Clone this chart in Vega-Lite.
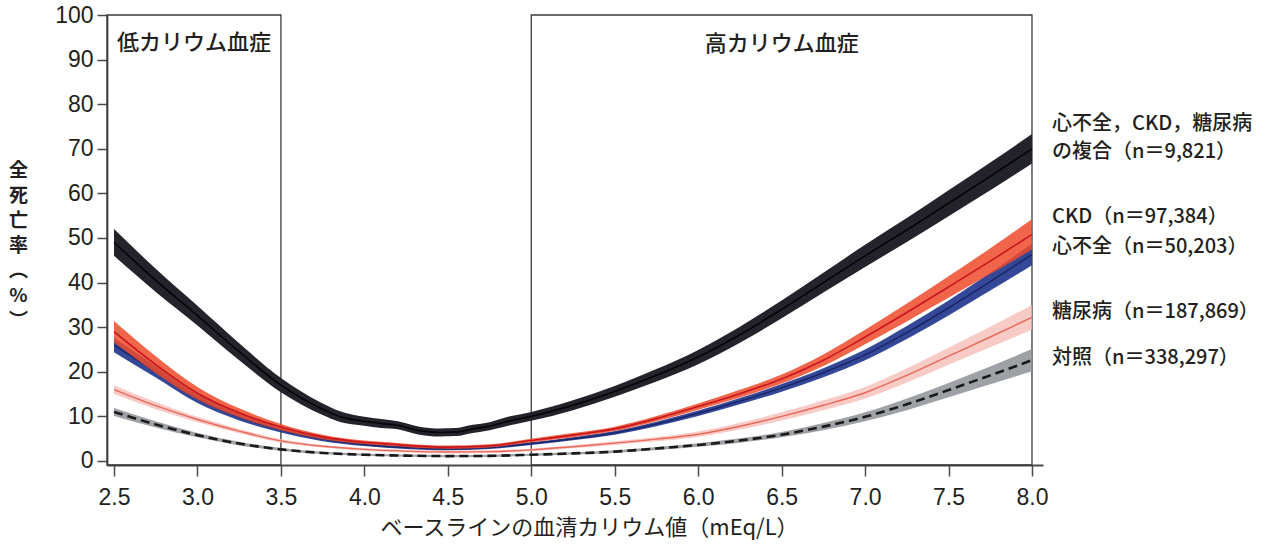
{
  "$schema": "https://vega.github.io/schema/vega-lite/v6.json",
  "width": 936,
  "height": 450,
  "autosize": {"type": "none"},
  "padding": {"left": 107, "top": 15, "right": 236, "bottom": 82},
  "background": "white",
  "config": {"view": {"stroke": null}, "font": "Liberation Sans"},
  "datasets": {
    "boxes": [{"a": 2.458, "b": 3.5}, {"a": 5.0, "b": 8.0}],
    "boxlabels": [{"k": 2.979, "v": 93.8, "txt": "低カリウム血症"}, {"k": 6.5, "v": 93.6, "txt": "高カリウム血症"}],
    "serieslabels": [
      {"k": 8.12, "v": 75.5, "txt": "心不全，CKD，糖尿病"},
      {"k": 8.12, "v": 69.2, "txt": "の複合（n＝9,821）"},
      {"k": 8.12, "v": 54.7, "txt": "CKD（n＝97,384）"},
      {"k": 8.12, "v": 48.0, "txt": "心不全（n＝50,203）"},
      {"k": 8.12, "v": 33.4, "txt": "糖尿病（n＝187,869）"},
      {"k": 8.12, "v": 23.1, "txt": "対照（n＝338,297）"}
    ],
    "curves": [
      {"g": "comp", "k": 2.5, "m": 49.0, "lo": 46.0, "hi": 52.0},
      {"g": "comp", "k": 2.75, "m": 40.5, "lo": 37.9, "hi": 43.1},
      {"g": "comp", "k": 3.0, "m": 32.6, "lo": 30.4, "hi": 34.8},
      {"g": "comp", "k": 3.25, "m": 24.5, "lo": 22.6, "hi": 26.4},
      {"g": "comp", "k": 3.5, "m": 17.0, "lo": 15.4, "hi": 18.6},
      {"g": "comp", "k": 3.75, "m": 11.6, "lo": 10.3, "hi": 12.9},
      {"g": "comp", "k": 3.85, "m": 10.0, "lo": 8.8, "hi": 11.2},
      {"g": "comp", "k": 4.0, "m": 8.9, "lo": 7.9, "hi": 9.9},
      {"g": "comp", "k": 4.1, "m": 8.4, "lo": 7.4, "hi": 9.4},
      {"g": "comp", "k": 4.2, "m": 8.0, "lo": 7.1, "hi": 8.9},
      {"g": "comp", "k": 4.33, "m": 6.8, "lo": 5.9, "hi": 7.7},
      {"g": "comp", "k": 4.45, "m": 6.4, "lo": 5.5, "hi": 7.3},
      {"g": "comp", "k": 4.55, "m": 6.5, "lo": 5.6, "hi": 7.4},
      {"g": "comp", "k": 4.65, "m": 7.2, "lo": 6.3, "hi": 8.1},
      {"g": "comp", "k": 4.75, "m": 7.8, "lo": 6.9, "hi": 8.7},
      {"g": "comp", "k": 4.85, "m": 8.8, "lo": 7.8, "hi": 9.8},
      {"g": "comp", "k": 5.0, "m": 10.0, "lo": 9.0, "hi": 11.0},
      {"g": "comp", "k": 5.25, "m": 12.5, "lo": 11.4, "hi": 13.6},
      {"g": "comp", "k": 5.5, "m": 15.6, "lo": 14.4, "hi": 16.8},
      {"g": "comp", "k": 5.75, "m": 19.2, "lo": 17.8, "hi": 20.6},
      {"g": "comp", "k": 6.0, "m": 23.3, "lo": 21.7, "hi": 24.9},
      {"g": "comp", "k": 6.25, "m": 28.3, "lo": 26.5, "hi": 30.1},
      {"g": "comp", "k": 6.5, "m": 34.0, "lo": 32.0, "hi": 36.0},
      {"g": "comp", "k": 6.75, "m": 40.0, "lo": 37.8, "hi": 42.2},
      {"g": "comp", "k": 7.0, "m": 46.0, "lo": 43.5, "hi": 48.5},
      {"g": "comp", "k": 7.25, "m": 51.8, "lo": 49.1, "hi": 54.5},
      {"g": "comp", "k": 7.5, "m": 57.8, "lo": 54.9, "hi": 60.7},
      {"g": "comp", "k": 7.75, "m": 63.8, "lo": 60.7, "hi": 66.9},
      {"g": "comp", "k": 8.0, "m": 70.0, "lo": 66.7, "hi": 73.3},

      {"g": "ckd", "k": 2.5, "m": 29.0, "lo": 26.6, "hi": 31.4},
      {"g": "ckd", "k": 2.75, "m": 21.6, "lo": 19.7, "hi": 23.5},
      {"g": "ckd", "k": 3.0, "m": 15.2, "lo": 13.8, "hi": 16.6},
      {"g": "ckd", "k": 3.25, "m": 10.8, "lo": 9.8, "hi": 11.8},
      {"g": "ckd", "k": 3.5, "m": 7.6, "lo": 6.9, "hi": 8.3},
      {"g": "ckd", "k": 3.75, "m": 5.4, "lo": 4.9, "hi": 5.9},
      {"g": "ckd", "k": 4.0, "m": 4.2, "lo": 3.8, "hi": 4.6},
      {"g": "ckd", "k": 4.15, "m": 3.8, "lo": 3.4, "hi": 4.2},
      {"g": "ckd", "k": 4.25, "m": 3.5, "lo": 3.15, "hi": 3.85},
      {"g": "ckd", "k": 4.5, "m": 3.1, "lo": 2.75, "hi": 3.45},
      {"g": "ckd", "k": 4.75, "m": 3.4, "lo": 3.05, "hi": 3.75},
      {"g": "ckd", "k": 5.0, "m": 4.6, "lo": 4.2, "hi": 5.0},
      {"g": "ckd", "k": 5.25, "m": 5.8, "lo": 5.35, "hi": 6.25},
      {"g": "ckd", "k": 5.5, "m": 7.2, "lo": 6.7, "hi": 7.7},
      {"g": "ckd", "k": 5.75, "m": 9.5, "lo": 8.9, "hi": 10.1},
      {"g": "ckd", "k": 6.0, "m": 12.2, "lo": 11.5, "hi": 12.9},
      {"g": "ckd", "k": 6.25, "m": 15.1, "lo": 14.25, "hi": 15.95},
      {"g": "ckd", "k": 6.5, "m": 18.4, "lo": 17.4, "hi": 19.4},
      {"g": "ckd", "k": 6.75, "m": 22.6, "lo": 21.3, "hi": 23.9},
      {"g": "ckd", "k": 7.0, "m": 27.8, "lo": 26.2, "hi": 29.4},
      {"g": "ckd", "k": 7.25, "m": 33.3, "lo": 31.3, "hi": 35.3},
      {"g": "ckd", "k": 7.5, "m": 39.0, "lo": 36.6, "hi": 41.4},
      {"g": "ckd", "k": 7.75, "m": 44.8, "lo": 41.9, "hi": 47.7},
      {"g": "ckd", "k": 8.0, "m": 50.8, "lo": 47.4, "hi": 54.2},

      {"g": "hf", "k": 2.5, "m": 26.0, "lo": 24.4, "hi": 27.6},
      {"g": "hf", "k": 2.75, "m": 20.0, "lo": 18.7, "hi": 21.3},
      {"g": "hf", "k": 3.0, "m": 14.0, "lo": 13.0, "hi": 15.0},
      {"g": "hf", "k": 3.25, "m": 9.9, "lo": 9.1, "hi": 10.7},
      {"g": "hf", "k": 3.5, "m": 7.0, "lo": 6.4, "hi": 7.6},
      {"g": "hf", "k": 3.75, "m": 4.9, "lo": 4.45, "hi": 5.35},
      {"g": "hf", "k": 4.0, "m": 3.7, "lo": 3.35, "hi": 4.05},
      {"g": "hf", "k": 4.25, "m": 3.0, "lo": 2.7, "hi": 3.3},
      {"g": "hf", "k": 4.5, "m": 2.7, "lo": 2.4, "hi": 3.0},
      {"g": "hf", "k": 4.75, "m": 3.0, "lo": 2.7, "hi": 3.3},
      {"g": "hf", "k": 5.0, "m": 3.9, "lo": 3.6, "hi": 4.2},
      {"g": "hf", "k": 5.25, "m": 5.0, "lo": 4.65, "hi": 5.35},
      {"g": "hf", "k": 5.5, "m": 6.3, "lo": 5.9, "hi": 6.7},
      {"g": "hf", "k": 5.75, "m": 8.3, "lo": 7.8, "hi": 8.8},
      {"g": "hf", "k": 6.0, "m": 10.7, "lo": 10.1, "hi": 11.3},
      {"g": "hf", "k": 6.25, "m": 13.4, "lo": 12.7, "hi": 14.1},
      {"g": "hf", "k": 6.5, "m": 16.4, "lo": 15.55, "hi": 17.25},
      {"g": "hf", "k": 6.75, "m": 19.8, "lo": 18.8, "hi": 20.8},
      {"g": "hf", "k": 7.0, "m": 23.8, "lo": 22.6, "hi": 25.0},
      {"g": "hf", "k": 7.25, "m": 28.8, "lo": 27.35, "hi": 30.25},
      {"g": "hf", "k": 7.5, "m": 34.3, "lo": 32.6, "hi": 36.0},
      {"g": "hf", "k": 7.75, "m": 40.2, "lo": 38.2, "hi": 42.2},
      {"g": "hf", "k": 8.0, "m": 46.3, "lo": 43.9, "hi": 48.7},

      {"g": "dm", "k": 2.5, "m": 16.0, "lo": 15.0, "hi": 17.0},
      {"g": "dm", "k": 2.75, "m": 12.4, "lo": 11.6, "hi": 13.2},
      {"g": "dm", "k": 3.0, "m": 9.3, "lo": 8.7, "hi": 9.9},
      {"g": "dm", "k": 3.25, "m": 6.7, "lo": 6.2, "hi": 7.2},
      {"g": "dm", "k": 3.5, "m": 4.5, "lo": 4.1, "hi": 4.9},
      {"g": "dm", "k": 3.75, "m": 3.3, "lo": 3.0, "hi": 3.6},
      {"g": "dm", "k": 4.0, "m": 2.6, "lo": 2.3, "hi": 2.9},
      {"g": "dm", "k": 4.25, "m": 2.2, "lo": 1.9, "hi": 2.5},
      {"g": "dm", "k": 4.5, "m": 2.0, "lo": 1.7, "hi": 2.3},
      {"g": "dm", "k": 4.75, "m": 2.1, "lo": 1.8, "hi": 2.4},
      {"g": "dm", "k": 5.0, "m": 2.5, "lo": 2.2, "hi": 2.8},
      {"g": "dm", "k": 5.25, "m": 3.2, "lo": 2.85, "hi": 3.55},
      {"g": "dm", "k": 5.5, "m": 4.0, "lo": 3.6, "hi": 4.4},
      {"g": "dm", "k": 5.75, "m": 4.9, "lo": 4.4, "hi": 5.4},
      {"g": "dm", "k": 6.0, "m": 6.0, "lo": 5.4, "hi": 6.6},
      {"g": "dm", "k": 6.25, "m": 7.8, "lo": 7.05, "hi": 8.55},
      {"g": "dm", "k": 6.5, "m": 10.0, "lo": 9.1, "hi": 10.9},
      {"g": "dm", "k": 6.75, "m": 12.5, "lo": 11.4, "hi": 13.6},
      {"g": "dm", "k": 7.0, "m": 15.3, "lo": 14.0, "hi": 16.6},
      {"g": "dm", "k": 7.25, "m": 19.2, "lo": 17.6, "hi": 20.8},
      {"g": "dm", "k": 7.5, "m": 23.5, "lo": 21.6, "hi": 25.4},
      {"g": "dm", "k": 7.75, "m": 27.8, "lo": 25.5, "hi": 30.1},
      {"g": "dm", "k": 8.0, "m": 32.2, "lo": 29.4, "hi": 35.0},

      {"g": "ctrl", "k": 2.5, "m": 11.0, "lo": 10.1, "hi": 11.9},
      {"g": "ctrl", "k": 2.75, "m": 8.2, "lo": 7.5, "hi": 8.9},
      {"g": "ctrl", "k": 3.0, "m": 5.8, "lo": 5.3, "hi": 6.3},
      {"g": "ctrl", "k": 3.25, "m": 3.9, "lo": 3.5, "hi": 4.3},
      {"g": "ctrl", "k": 3.5, "m": 2.6, "lo": 2.3, "hi": 2.9},
      {"g": "ctrl", "k": 3.75, "m": 1.8, "lo": 1.55, "hi": 2.05},
      {"g": "ctrl", "k": 4.0, "m": 1.4, "lo": 1.15, "hi": 1.65},
      {"g": "ctrl", "k": 4.25, "m": 1.2, "lo": 0.95, "hi": 1.45},
      {"g": "ctrl", "k": 4.5, "m": 1.1, "lo": 0.85, "hi": 1.35},
      {"g": "ctrl", "k": 4.75, "m": 1.15, "lo": 0.9, "hi": 1.4},
      {"g": "ctrl", "k": 5.0, "m": 1.4, "lo": 1.15, "hi": 1.65},
      {"g": "ctrl", "k": 5.25, "m": 1.7, "lo": 1.45, "hi": 1.95},
      {"g": "ctrl", "k": 5.5, "m": 2.1, "lo": 1.8, "hi": 2.4},
      {"g": "ctrl", "k": 5.75, "m": 2.8, "lo": 2.45, "hi": 3.15},
      {"g": "ctrl", "k": 6.0, "m": 3.6, "lo": 3.2, "hi": 4.0},
      {"g": "ctrl", "k": 6.25, "m": 4.6, "lo": 4.1, "hi": 5.1},
      {"g": "ctrl", "k": 6.5, "m": 5.9, "lo": 5.3, "hi": 6.5},
      {"g": "ctrl", "k": 6.75, "m": 7.7, "lo": 6.9, "hi": 8.5},
      {"g": "ctrl", "k": 7.0, "m": 9.9, "lo": 8.9, "hi": 10.9},
      {"g": "ctrl", "k": 7.25, "m": 12.7, "lo": 11.4, "hi": 14.0},
      {"g": "ctrl", "k": 7.5, "m": 15.9, "lo": 14.3, "hi": 17.5},
      {"g": "ctrl", "k": 7.75, "m": 19.2, "lo": 17.2, "hi": 21.2},
      {"g": "ctrl", "k": 8.0, "m": 22.6, "lo": 20.1, "hi": 25.1}
    ]
  },
  "layer": [
    {
      "data": {"name": "boxes"},
      "mark": {"type": "rect", "fill": null, "stroke": "#3a3a3a", "strokeWidth": 1.3},
      "encoding": {
        "x": {
          "field": "a", "type": "quantitative",
          "scale": {"domain": [2.458, 8.066], "nice": false, "zero": false},
          "axis": {
            "values": [2.5, 3.0, 3.5, 4.0, 4.5, 5.0, 5.5, 6.0, 6.5, 7.0, 7.5, 8.0],
            "format": ".1f",
            "grid": false,
            "labelFont": "Liberation Sans", "labelFontSize": 23, "labelColor": "#231f20",
            "labelPadding": 10, "labelFlush": false, "labelOverlap": false,
            "tickSize": 11, "tickColor": "#4a4a4a", "tickWidth": 1.5,
            "domainColor": "#4a4a4a", "domainWidth": 1.8,
            "title": "ベースラインの血清カリウム値（mEq/L）",
            "titleFont": "Noto Sans CJK JP", "titleFontSize": 22, "titleFontWeight": "normal",
            "titleColor": "#231f20", "titlePadding": 8, "titleX": 482
          }
        },
        "x2": {"field": "b"},
        "y": {
          "datum": 100, "type": "quantitative",
          "scale": {"domain": [-0.9, 100], "nice": false, "zero": false},
          "axis": {
            "values": [0, 10, 20, 30, 40, 50, 60, 70, 80, 90, 100],
            "grid": false,
            "labelFont": "Liberation Sans", "labelFontSize": 23, "labelColor": "#231f20",
            "labelPadding": 4, "labelFlush": false, "labelOverlap": false,
            "tickSize": 10, "tickColor": "#4a4a4a", "tickWidth": 1.5,
            "domainColor": "#4a4a4a", "domainWidth": 1.8,
            "title": ["全", "死", "亡", "率", "︵", "%", "︶"],
            "titleFont": "Noto Sans CJK JP", "titleFontSize": 19, "titleFontWeight": "bold",
            "titleColor": "#231f20", "titleAngle": 0, "titleAlign": "center", "titleBaseline": "top",
            "titleX": -89, "titleY": 146, "titleLineHeight": 25
          }
        },
        "y2": {"datum": -0.9}
      }
    },
    {
      "data": {"name": "curves"}, "transform": [{"filter": "datum.g === 'ctrl'"}],
      "mark": {"type": "area", "color": "#8d9095", "opacity": 0.85, "interpolate": "monotone"},
      "encoding": {"x": {"field": "k", "type": "quantitative"}, "y": {"field": "lo", "type": "quantitative"}, "y2": {"field": "hi"}}
    },
    {
      "data": {"name": "curves"}, "transform": [{"filter": "datum.g === 'ctrl'"}],
      "mark": {"type": "line", "color": "#1a1a1a", "strokeWidth": 2.6, "strokeDash": [9, 5], "interpolate": "monotone"},
      "encoding": {"x": {"field": "k", "type": "quantitative"}, "y": {"field": "m", "type": "quantitative"}}
    },
    {
      "data": {"name": "curves"}, "transform": [{"filter": "datum.g === 'dm'"}],
      "mark": {"type": "area", "color": "#f6b9b3", "opacity": 0.75, "interpolate": "monotone"},
      "encoding": {"x": {"field": "k", "type": "quantitative"}, "y": {"field": "lo", "type": "quantitative"}, "y2": {"field": "hi"}}
    },
    {
      "data": {"name": "curves"}, "transform": [{"filter": "datum.g === 'dm'"}],
      "mark": {"type": "line", "color": "#e8685a", "strokeWidth": 1.4, "interpolate": "monotone"},
      "encoding": {"x": {"field": "k", "type": "quantitative"}, "y": {"field": "m", "type": "quantitative"}}
    },
    {
      "data": {"name": "curves"}, "transform": [{"filter": "datum.g === 'hf'"}],
      "mark": {"type": "area", "color": "#2a3e92", "opacity": 0.95, "interpolate": "monotone"},
      "encoding": {"x": {"field": "k", "type": "quantitative"}, "y": {"field": "lo", "type": "quantitative"}, "y2": {"field": "hi"}}
    },
    {
      "data": {"name": "curves"}, "transform": [{"filter": "datum.g === 'hf'"}],
      "mark": {"type": "line", "color": "#1a2668", "strokeWidth": 1.5, "interpolate": "monotone"},
      "encoding": {"x": {"field": "k", "type": "quantitative"}, "y": {"field": "m", "type": "quantitative"}}
    },
    {
      "data": {"name": "curves"}, "transform": [{"filter": "datum.g === 'ckd'"}],
      "mark": {"type": "area", "color": "#ef4a2c", "opacity": 0.85, "interpolate": "monotone"},
      "encoding": {"x": {"field": "k", "type": "quantitative"}, "y": {"field": "lo", "type": "quantitative"}, "y2": {"field": "hi"}}
    },
    {
      "data": {"name": "curves"}, "transform": [{"filter": "datum.g === 'ckd'"}],
      "mark": {"type": "line", "color": "#c8161c", "strokeWidth": 1.6, "interpolate": "monotone"},
      "encoding": {"x": {"field": "k", "type": "quantitative"}, "y": {"field": "m", "type": "quantitative"}}
    },
    {
      "data": {"name": "curves"}, "transform": [{"filter": "datum.g === 'comp'"}],
      "mark": {"type": "area", "color": "#23232c", "opacity": 1, "interpolate": "monotone"},
      "encoding": {"x": {"field": "k", "type": "quantitative"}, "y": {"field": "lo", "type": "quantitative"}, "y2": {"field": "hi"}}
    },
    {
      "data": {"name": "curves"}, "transform": [{"filter": "datum.g === 'comp'"}],
      "mark": {"type": "line", "color": "#050505", "strokeWidth": 1.6, "interpolate": "monotone"},
      "encoding": {"x": {"field": "k", "type": "quantitative"}, "y": {"field": "m", "type": "quantitative"}}
    },
    {
      "data": {"name": "boxlabels"},
      "mark": {"type": "text", "font": "Noto Sans CJK JP", "fontSize": 22, "fontWeight": 500, "color": "#231f20", "align": "center", "baseline": "middle"},
      "encoding": {"x": {"field": "k", "type": "quantitative"}, "y": {"field": "v", "type": "quantitative"}, "text": {"field": "txt"}}
    },
    {
      "data": {"name": "serieslabels"},
      "mark": {"type": "text", "font": "Noto Sans CJK JP", "fontSize": 20, "fontWeight": 500, "color": "#231f20", "align": "left", "baseline": "middle"},
      "encoding": {"x": {"field": "k", "type": "quantitative"}, "y": {"field": "v", "type": "quantitative"}, "text": {"field": "txt"}}
    }
  ]
}
